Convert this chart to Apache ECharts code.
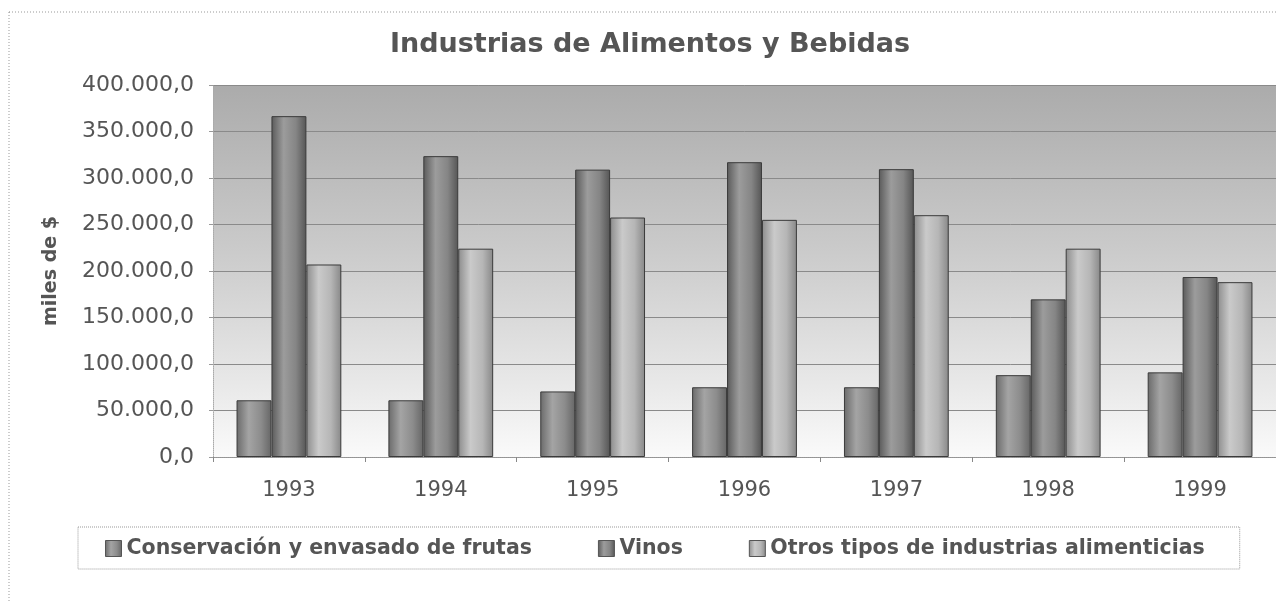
<!DOCTYPE html>
<html>
<head>
<meta charset="utf-8">
<script src="https://cdn.jsdelivr.net/npm/echarts@6/dist/echarts.min.js"></script>
<style>
  html, body { margin: 0; padding: 0; background: #fff; }
  #chart { width: 1276px; height: 603px; }
</style>
</head>
<body>
<div id="chart"></div>
<script>
var years = ['1993', '1994', '1995', '1996', '1997', '1998', '1999'];
var frutas = [61000, 61000, 70500, 75000, 75000, 88000, 91000];
var vinos = [366500, 323500, 309000, 317000, 309500, 169500, 193500];
var otros = [207000, 224000, 257500, 255000, 260000, 224000, 188000];
var seriesNames = ['Conservación y envasado de frutas', 'Vinos', 'Otros tipos de industrias alimenticias'];

var myChart = echarts.init(document.getElementById('chart'));

// 400000 -> "400.000,0"
function fmt(v) {
    return v.toFixed(1).replace('.', ',').replace(/\B(?=(\d{3})+(?!\d))/g, '.');
}

function cyl(c0, c1, c2, c3) {
    return new echarts.graphic.LinearGradient(0, 0, 1, 0, [
        { offset: 0, color: c0 },
        { offset: 0.35, color: c1 },
        { offset: 0.7, color: c2 },
        { offset: 1, color: c3 }
    ]);
}

var colors = [
    cyl('#6a6a6a', '#a4a4a4', '#8c8c8c', '#666'),
    cyl('#5a5a5a', '#9c9c9c', '#858585', '#555'),
    cyl('#8c8c8c', '#cacaca', '#b6b6b6', '#888')
];

function bar(i, data) {
    return {
        name: seriesNames[i],
        type: 'bar',
        barGap: 0,
        barCategoryGap: '31%',
        itemStyle: {
            color: colors[i],
            borderColor: '#3a3a3a',
            borderWidth: 1
        },
        data: data
    };
}

var option = {
    backgroundColor: '#fff',
    animation: false,
    textStyle: { fontFamily: 'DejaVu Sans' },
    graphic: [{
        type: 'rect',
        shape: { x: 9, y: 12, width: 1290, height: 620 },
        style: { fill: 'none', stroke: '#999', lineWidth: 1, lineDash: [1, 2] },
        silent: true
    }],
    title: {
        text: 'Industrias de Alimentos y Bebidas',
        left: 645,
        top: 26,
        textAlign: 'center',
        textStyle: {
            fontFamily: 'DejaVu Sans',
            fontSize: 27,
            fontWeight: 'bold',
            color: '#555'
        }
    },
    legend: {
        data: seriesNames,
        left: 78,
        top: 527,
        padding: [11, 35, 10, 27],
        itemGap: 66,
        itemWidth: 16,
        itemHeight: 16,
        icon: 'rect',
        borderColor: '#999',
        borderWidth: 1,
        borderType: 'dotted',
        itemStyle: { borderColor: '#555', borderWidth: 1 },
        textStyle: {
            fontFamily: 'DejaVu Sans',
            fontSize: 20.5,
            fontWeight: 'bold',
            color: '#555'
        }
    },
    grid: {
        left: 213,
        top: 85,
        width: 1066,
        height: 372,
        show: true,
        borderWidth: 0,
        backgroundColor: new echarts.graphic.LinearGradient(0, 0, 0, 1, [
            { offset: 0, color: '#ababab' },
            { offset: 0.45, color: '#cbcbcb' },
            { offset: 0.8, color: '#e8e8e8' },
            { offset: 1, color: '#fafafa' }
        ])
    },
    xAxis: {
        type: 'category',
        data: years,
        axisLine: { lineStyle: { color: '#999', type: 'dotted' } },
        axisTick: { show: true, length: 5, lineStyle: { color: '#888' } },
        axisLabel: {
            margin: 23,
            fontSize: 21,
            color: '#555',
            fontFamily: 'DejaVu Sans'
        }
    },
    yAxis: {
        type: 'value',
        min: 0,
        max: 400000,
        interval: 50000,
        name: 'miles de $',
        nameLocation: 'middle',
        nameGap: 152,
        nameTextStyle: {
            fontFamily: 'DejaVu Sans',
            fontSize: 19,
            fontWeight: 'bold',
            color: '#555'
        },
        axisLine: { show: true, lineStyle: { color: '#aaa', type: 'dotted' } },
        axisTick: { show: true, length: 4, lineStyle: { color: '#999' } },
        axisLabel: {
            margin: 19,
            fontSize: 22,
            color: '#555',
            fontFamily: 'DejaVu Sans',
            formatter: fmt
        },
        splitLine: { lineStyle: { color: '#8a8a8a', width: 1 } }
    },
    series: [
        bar(0, frutas),
        bar(1, vinos),
        bar(2, otros)
    ]
};

myChart.setOption(option);
</script>
</body>
</html>
